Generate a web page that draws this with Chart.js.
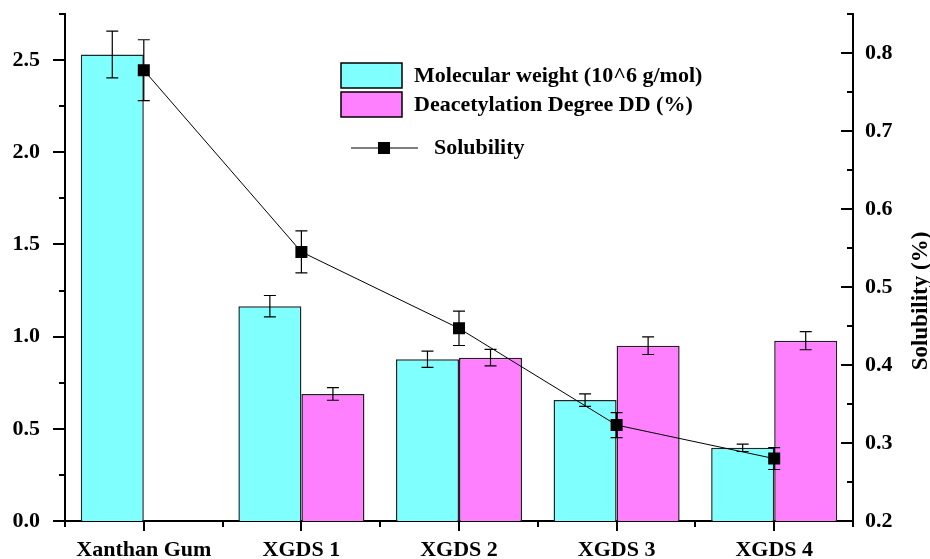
<!DOCTYPE html>
<html>
<head>
<meta charset="utf-8">
<script src="https://cdn.jsdelivr.net/npm/chart.js@4/dist/chart.umd.min.js"></script>
<style>
html,body{margin:0;padding:0;background:#fff;}
canvas{display:block;}
</style>
</head>
<body>
<canvas id="c" width="930" height="559"></canvas>
<script>
const categories = ['Xanthan Gum', 'XGDS 1', 'XGDS 2', 'XGDS 3', 'XGDS 4'];
const molecularWeight = [2.53, 1.165, 0.877, 0.656, 0.397];
const molecularWeightErr = [0.127, 0.058, 0.044, 0.034, 0.02];
const deacetylation = [null, 0.689, 0.886, 0.951, 0.978];
const deacetylationErr = [null, 0.034, 0.045, 0.048, 0.049];
const solubility = [0.778, 0.545, 0.447, 0.323, 0.280];
const solubilityErr = [0.039, 0.027, 0.022, 0.016, 0.014];
const leftTicks = [0, 0.5, 1.0, 1.5, 2.0, 2.5];
const rightTicks = [0.2, 0.3, 0.4, 0.5, 0.6, 0.7, 0.8];
const seriesLabels = ['Molecular weight (10^6 g/mol)', 'Deacetylation Degree DD (%)', 'Solubility'];
const rightTitle = 'Solubility (%)';

const FONT = "'Liberation Serif', 'Times New Roman', serif";
const errorSets = [molecularWeightErr, deacetylationErr, solubilityErr];

const errorPlugin = {
  id: 'errorBars',
  afterDatasetDraw(chart, args) {
    const idx = args.index;
    const errs = errorSets[idx];
    if (!errs) return;
    const ds = chart.data.datasets[idx];
    const yScale = chart.scales[ds.yAxisID];
    const ctx = chart.ctx;
    ctx.save();
    ctx.strokeStyle = '#000';
    ctx.lineWidth = 1.2;
    args.meta.data.forEach((el, i) => {
      const v = ds.data[i];
      const e = errs[i];
      if (v == null || e == null) return;
      const x = el.x;
      const yTop = yScale.getPixelForValue(v + e);
      const yBot = yScale.getPixelForValue(v - e);
      ctx.beginPath();
      ctx.moveTo(x, yTop); ctx.lineTo(x, yBot);
      ctx.moveTo(x - 6, yTop); ctx.lineTo(x + 6, yTop);
      ctx.moveTo(x - 6, yBot); ctx.lineTo(x + 6, yBot);
      ctx.stroke();
    });
    ctx.restore();
  }
};

const decorPlugin = {
  id: 'decor',
  afterDraw(chart) {
    const ctx = chart.ctx;
    const ca = chart.chartArea;
    const yl = chart.scales.y;
    const yr = chart.scales.y1;
    const xs = chart.scales.x;
    ctx.save();
    ctx.strokeStyle = '#000';
    ctx.lineWidth = 2;
    ctx.beginPath();
    leftTicks.forEach(v => {
      const p = Math.round(yl.getPixelForValue(v));
      ctx.moveTo(ca.left - 12, p); ctx.lineTo(ca.left, p);
      const m = v + 0.25;
      if (m <= yl.max + 1e-9) {
        const pm = Math.round(yl.getPixelForValue(m));
        ctx.moveTo(ca.left - 6, pm); ctx.lineTo(ca.left, pm);
      }
    });
    rightTicks.forEach(v => {
      const p = Math.round(yr.getPixelForValue(v));
      ctx.moveTo(ca.right - 12, p); ctx.lineTo(ca.right, p);
      const m = v + 0.05;
      if (m <= yr.max + 1e-9) {
        const pm = Math.round(yr.getPixelForValue(m));
        ctx.moveTo(ca.right - 6, pm); ctx.lineTo(ca.right, pm);
      }
    });
    const n = categories.length;
    const w = (ca.right - ca.left) / n;
    for (let i = 0; i < n; i++) {
      const p = Math.round(xs.getPixelForValue(i));
      ctx.moveTo(p, ca.bottom); ctx.lineTo(p, ca.bottom + 10);
    }
    for (let i = 0; i <= n; i++) {
      const p = Math.round(ca.left + i * w);
      ctx.moveTo(p, ca.bottom); ctx.lineTo(p, ca.bottom + 6);
    }
    ctx.stroke();

    ctx.fillStyle = '#000';
    ctx.font = 'bold 23px ' + FONT;
    ctx.translate(921, 301);
    ctx.rotate(-Math.PI / 2);
    ctx.textAlign = 'center';
    ctx.textBaseline = 'middle';
    ctx.fillText(rightTitle, 0, 0);
    ctx.restore();

    ctx.save();
    const ds = chart.data.datasets;
    ctx.font = 'bold 22px ' + FONT;
    ctx.textBaseline = 'middle';
    ctx.textAlign = 'left';
    ctx.lineWidth = 1.5;
    ctx.strokeStyle = '#000';
    const boxes = [[341, 63], [341, 92]];
    [0, 1].forEach(k => {
      const [bx, by] = boxes[k];
      ctx.fillStyle = ds[k].backgroundColor;
      ctx.fillRect(bx, by, 61, 25);
      ctx.strokeRect(bx, by, 61, 25);
      ctx.fillStyle = '#000';
      ctx.fillText(ds[k].label, 414, by + 13);
    });
    ctx.lineWidth = 1;
    ctx.beginPath();
    ctx.moveTo(351, 148); ctx.lineTo(418, 148);
    ctx.stroke();
    ctx.fillStyle = '#000';
    ctx.fillRect(378, 142, 12, 12);
    ctx.fillText(ds[2].label, 434, 148);
    ctx.restore();
  }
};

new Chart(document.getElementById('c'), {
  type: 'bar',
  data: {
    labels: categories,
    datasets: [
      {
        label: seriesLabels[0],
        data: molecularWeight,
        backgroundColor: '#80FFFF',
        borderColor: '#1a2a2a',
        borderWidth: 1.5,
        yAxisID: 'y',
        order: 1,
        categoryPercentage: 0.8,
        barPercentage: 1.0
      },
      {
        label: seriesLabels[1],
        data: deacetylation,
        backgroundColor: '#FF80FF',
        borderColor: '#2a1a2a',
        borderWidth: 1.5,
        yAxisID: 'y',
        order: 2,
        categoryPercentage: 0.8,
        barPercentage: 1.0
      },
      {
        type: 'line',
        label: seriesLabels[2],
        data: solubility,
        borderColor: '#000',
        backgroundColor: '#000',
        borderWidth: 1,
        pointStyle: 'rect',
        pointRadius: 8.5,
        pointBorderWidth: 0,
        pointBackgroundColor: '#000',
        yAxisID: 'y1',
        order: 0,
        tension: 0
      }
    ]
  },
  options: {
    responsive: false,
    animation: false,
    devicePixelRatio: 1,
    layout: { padding: { top: 14, left: 0, right: 0, bottom: 0 } },
    plugins: { legend: { display: false }, tooltip: { enabled: false } },
    scales: {
      x: {
        type: 'category',
        offset: true,
        grid: { display: false, drawTicks: false },
        border: { display: true, color: '#000', width: 2 },
        ticks: { color: '#000', font: { family: FONT, size: 22, weight: 'bold' }, padding: 16, maxRotation: 0, autoSkip: false },
        afterFit(s) { s.height = 38; s.paddingLeft = 0; s.paddingRight = 0; }
      },
      y: {
        position: 'left',
        min: 0, max: 2.75,
        grid: { display: false, drawTicks: false },
        border: { display: true, color: '#000', width: 2 },
        afterBuildTicks(s) { s.ticks = leftTicks.map(v => ({ value: v })); },
        ticks: { color: '#000', font: { family: FONT, size: 22, weight: 'bold' }, padding: 25,
                 callback: v => Number(v).toFixed(1) },
        afterFit(s) { s.width = 65; s.paddingTop = 0; s.paddingBottom = 0; }
      },
      y1: {
        position: 'right',
        min: 0.2, max: 0.85,
        grid: { display: false, drawTicks: false },
        border: { display: true, color: '#000', width: 2 },
        afterBuildTicks(s) { s.ticks = rightTicks.map(v => ({ value: v })); },
        ticks: { color: '#000', font: { family: FONT, size: 22, weight: 'bold' }, padding: 12,
                 callback: v => Number(v).toFixed(1) },
        afterFit(s) { s.width = 77; s.paddingTop = 0; s.paddingBottom = 0; }
      }
    }
  },
  plugins: [errorPlugin, decorPlugin]
});
</script>
</body>
</html>
